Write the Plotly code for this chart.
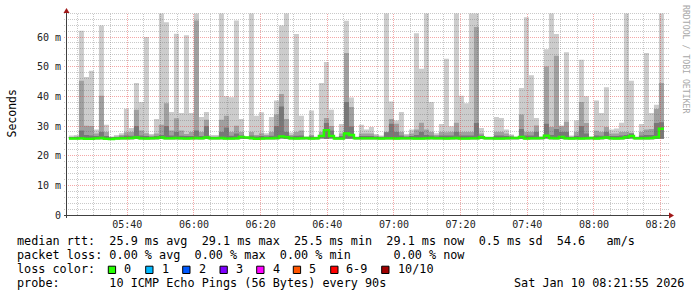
import pandas as pd
import plotly.graph_objects as go

# ---------------- data ----------------
t_first = "2026-01-10 05:22:30"          # start of first 90 s step
t_range = ["2026-01-10 05:21:55", "2026-01-10 08:21:55"]
step_s = 90

rtt_max = [26.8, 27.0, 62.1, 46.5, 48.6, 28.8, 63.9, 30.4, 26.5, 27.0,
           27.6, 35.8, 29.3, 44.5, 38.1, 60.0, 27.3, 32.4, 67.9, 65.0,
           34.7, 61.1, 34.4, 60.6, 34.4, 67.9, 33.0, 34.7, 27.0, 27.0,
           67.9, 40.0, 39.7, 65.6, 32.4, 26.5, 67.9, 33.5, 34.6, 27.6,
           33.0, 38.6, 63.9, 67.9, 27.8, 61.0, 33.5, 26.5, 35.2, 26.5,
           44.5, 51.6, 35.5, 26.5, 30.7, 65.5, 39.6, 26.5, 30.4, 28.8,
           29.7, 27.3, 26.8, 67.9, 38.3, 31.9, 34.7, 27.3, 28.8, 61.3,
           49.3, 67.9, 38.1, 27.6, 30.7, 52.7, 29.9, 67.9, 40.2, 37.7,
           67.9, 67.9, 29.3, 26.5, 26.5, 33.0, 32.7, 28.8, 27.1, 26.5,
           42.8, 66.7, 47.1, 32.7, 26.5, 55.9, 67.9, 61.0, 30.2, 54.9,
           26.8, 31.9, 52.3, 40.0, 26.5, 38.6, 34.4, 43.1, 28.8, 29.2,
           31.1, 67.9, 45.3, 26.5, 30.7, 54.6, 34.4, 37.2, 67.9]

rtt_upper = [26.3, 26.5, 45.3, 30.1, 30.0, 27.5, 40.2, 28.0, 26.3, 26.5,
             27.0, 27.9, 28.0, 35.5, 28.5, 27.6, 26.8, 27.5, 30.4, 37.7,
             28.5, 32.6, 28.5, 27.3, 28.0, 65.6, 28.0, 32.1, 26.5, 26.5,
             32.1, 33.5, 28.0, 30.1, 28.0, 26.3, 28.0, 27.0, 27.6, 27.0,
             28.0, 33.9, 40.8, 32.4, 27.0, 28.0, 28.5, 26.3, 27.0, 26.3,
             28.0, 32.7, 30.0, 26.3, 27.5, 54.6, 36.4, 26.3, 27.5, 27.5,
             27.5, 26.8, 26.5, 28.0, 32.4, 30.8, 28.0, 26.8, 27.5, 28.8,
             31.1, 28.8, 28.0, 27.0, 28.0, 27.9, 28.0, 31.1, 28.0, 28.0,
             28.0, 63.4, 27.5, 26.3, 26.3, 28.0, 28.0, 27.5, 26.8, 26.3,
             33.9, 28.0, 28.0, 30.2, 26.3, 50.1, 29.7, 53.7, 29.9, 31.4,
             26.5, 28.0, 38.1, 31.0, 26.3, 28.4, 28.0, 29.7, 27.5, 27.5,
             28.0, 28.0, 27.7, 26.3, 28.0, 28.8, 29.0, 35.7, 44.5]

rtt_low = [26.2, 26.3, 28.5, 27.0, 26.8, 26.6, 28.0, 26.6, 26.2, 26.3,
           26.5, 26.8, 26.7, 30.0, 26.8, 26.6, 26.4, 26.6, 27.0, 30.0,
           26.8, 28.0, 26.7, 26.6, 26.6, 28.5, 26.6, 30.0, 26.3, 26.3,
           28.0, 29.5, 26.7, 27.5, 26.8, 26.2, 26.8, 26.5, 26.6, 26.5,
           26.7, 30.0, 36.6, 28.0, 26.5, 26.7, 26.8, 26.2, 26.5, 26.2,
           27.0, 31.0, 28.5, 26.2, 26.6, 38.1, 29.8, 26.2, 26.6, 26.6,
           26.6, 26.4, 26.3, 27.9, 30.8, 28.0, 26.8, 26.4, 26.6, 27.0,
           28.0, 27.0, 26.8, 26.5, 26.8, 26.8, 26.8, 28.0, 26.8, 26.8,
           26.8, 31.0, 26.8, 26.2, 26.2, 26.8, 26.8, 26.6, 26.4, 26.2,
           29.0, 26.8, 26.8, 28.0, 26.2, 30.8, 27.0, 29.0, 28.0, 28.0,
           26.3, 26.7, 30.0, 27.5, 26.2, 26.8, 26.7, 28.0, 26.6, 26.6,
           26.8, 27.0, 27.5, 26.2, 26.8, 27.0, 27.0, 31.0, 31.3]

rtt_median = [25.8, 25.8, 25.9, 25.7, 25.7, 25.9, 26.0, 25.7, 25.6, 25.8,
              25.9, 25.9, 26.0, 26.1, 25.9, 25.8, 25.9, 26.0, 26.1, 25.9,
              25.9, 26.0, 25.9, 25.8, 25.9, 26.0, 25.9, 26.1, 25.9, 25.9,
              26.0, 25.8, 25.8, 25.9, 26.3, 26.1, 26.0, 25.7, 25.8, 25.9,
              25.9, 26.0, 26.5, 26.2, 25.9, 25.8, 25.9, 26.0, 25.8, 25.9,
              26.6, 28.6, 26.6, 25.8, 25.8, 27.5, 27.0, 25.9, 25.9, 25.9,
              25.9, 25.9, 25.8, 25.9, 25.9, 25.8, 25.9, 25.9, 25.9, 25.8,
              25.8, 25.9, 26.0, 25.9, 25.9, 25.8, 25.9, 26.0, 25.8, 25.8,
              25.9, 25.9, 26.2, 25.9, 25.9, 25.8, 25.8, 25.9, 26.0, 26.0,
              26.3, 25.8, 25.9, 25.9, 26.0, 26.7, 26.0, 25.9, 26.3, 25.9,
              25.8, 25.9, 25.8, 25.9, 26.0, 25.8, 26.0, 26.1, 25.9, 25.8,
              25.9, 26.2, 26.6, 25.9, 25.9, 25.9, 26.0, 26.2, 29.1]

rtt_min = [25.5, 25.5, 25.5, 25.4, 25.4, 25.5, 25.5, 25.4, 25.4, 25.5,
           25.5, 25.5, 25.5, 25.6, 25.5, 25.5, 25.5, 25.5, 25.6, 25.5,
           25.5, 25.5, 25.5, 25.5, 25.5, 25.5, 25.5, 25.6, 25.5, 25.5,
           25.5, 25.5, 25.5, 25.5, 25.7, 25.6, 25.5, 25.4, 25.5, 25.5,
           25.5, 25.5, 25.8, 25.6, 25.5, 25.5, 25.5, 25.5, 25.5, 25.5,
           25.8, 25.6, 25.8, 25.5, 25.5, 25.7, 25.7, 25.5, 25.5, 25.5,
           25.5, 25.5, 25.5, 25.5, 25.5, 25.5, 25.5, 25.5, 25.5, 25.5,
           25.5, 25.5, 25.5, 25.5, 25.5, 25.5, 25.5, 25.5, 25.5, 25.5,
           25.5, 25.5, 25.6, 25.5, 25.5, 25.5, 25.5, 25.5, 25.5, 25.5,
           25.6, 25.5, 25.5, 25.5, 25.5, 25.8, 25.5, 25.5, 25.6, 25.5,
           25.5, 25.5, 25.5, 25.5, 25.5, 25.5, 25.5, 25.6, 25.5, 25.5,
           25.5, 25.6, 25.8, 25.5, 25.5, 25.5, 25.5, 25.6, 25.7]

y_tick_vals = [0, 10, 20, 30, 40, 50, 60]
y_tick_text = ["0", "10 m", "20 m", "30 m", "40 m", "50 m", "60 m"]
x_tick_text = ["05:40", "06:00", "06:20", "06:40", "07:00", "07:20", "07:40", "08:00", "08:20"]

legend_rtt = "median rtt:  25.9 ms avg  29.1 ms max  25.5 ms min  29.1 ms now  0.5 ms sd  54.6   am/s"
legend_loss = "packet loss: 0.00 % avg  0.00 % max  0.00 % min      0.00 % now"
loss_labels = ["0", "1", "2", "3", "4", "5", "6-9", "10/10"]
loss_colors = ["#26ff00", "#00b8ff", "#0059ff", "#7e00ff", "#ff00ff", "#ff5500", "#ff0000", "#a10000"]
legend_probe = "probe:       10 ICMP Echo Pings (56 Bytes) every 90s"
stamp = "Sat Jan 10 08:21:55 2026"
watermark = "RRDTOOL / TOBI OETIKER"

# ---------------- geometry ----------------
W, H = 697, 297
L, R, T, B = 67, 667, 13, 215
Y_TOP = 68.1
MONO = "DejaVu Sans Mono"
SEC_PER_PX = 18.0


def px(x):
    return (x - L) / (R - L)


def py(y):
    return (B - y) / (B - T)


n = len(rtt_max)
times = pd.date_range(t_first, periods=n + 1, freq=f"{step_s}s")


def ext(a):
    return list(a) + [a[-1]]


fig = go.Figure()
for top, color in [(rtt_max, "#cccccc"), (rtt_upper, "#a0a0a0"), (rtt_low, "#787878")]:
    fig.add_trace(go.Scatter(x=times, y=ext(rtt_min), mode="lines",
                             line=dict(width=0, shape="hv"), hoverinfo="skip"))
    fig.add_trace(go.Scatter(x=times, y=ext(top), mode="lines",
                             line=dict(width=0, shape="hv"), fill="tonexty",
                             fillcolor=color, hoverinfo="skip"))
fig.add_trace(go.Scatter(x=times, y=ext(rtt_median), mode="lines",
                         line=dict(width=2.5, shape="hv", color="#26ff00"),
                         hoverinfo="skip"))

shapes = []
minor_col = "rgba(100,100,100,0.35)"
major_col = "rgba(230,60,60,0.45)"
dash = "1px,1px"
t_axis0 = pd.Timestamp(t_range[0])
# vertical grid every 5 min (snapped to pixel centres)
t_grid0 = pd.Timestamp("2026-01-10 05:25:00")
for i in range(36):
    t = t_grid0 + pd.Timedelta(minutes=5 * i)
    major = (t.minute % 20 == 0)
    xp = L + (t - t_axis0).total_seconds() / SEC_PER_PX
    xp = int(xp) + 0.5
    shapes.append(dict(type="line", xref="paper", yref="paper", x0=px(xp), x1=px(xp),
                       y0=py(B), y1=py(T),
                       line=dict(color=major_col if major else minor_col, width=1, dash=dash),
                       layer="above"))
# horizontal grid every 2 ms (snapped to pixel centres)
for v in range(2, 69, 2):
    major = (v % 10 == 0)
    yp = B - v * (B - T) / Y_TOP
    if yp < T - 0.5:
        continue
    yp = int(yp) + 0.5
    shapes.append(dict(type="line", xref="paper", yref="paper", x0=px(64), x1=px(669),
                       y0=py(yp), y1=py(yp),
                       line=dict(color=major_col if major else minor_col, width=1, dash=dash),
                       layer="above"))
# axes + arrows
axis_col = "#404040"
arrow_col = "#a01818"
shapes.append(dict(type="line", xref="paper", yref="paper", x0=px(64), x1=px(670),
                   y0=py(215.5), y1=py(215.5), line=dict(color=axis_col, width=1), layer="above"))
shapes.append(dict(type="line", xref="paper", yref="paper", x0=px(66.5), x1=px(66.5),
                   y0=py(218), y1=py(12), line=dict(color=axis_col, width=1), layer="above"))
shapes.append(dict(type="path", xref="paper", yref="paper",
                   path=f"M {px(66.5)},{py(8)} L {px(63.5)},{py(13)} L {px(69.5)},{py(13)} Z",
                   fillcolor=arrow_col, line=dict(width=0), layer="above"))
shapes.append(dict(type="path", xref="paper", yref="paper",
                   path=f"M {px(674)},{py(215.5)} L {px(669)},{py(212.5)} L {px(669)},{py(218.5)} Z",
                   fillcolor=arrow_col, line=dict(width=0), layer="above"))

# loss colour boxes
box_left = [108.3, 145.7, 182.7, 220.0, 256.7, 293.3, 330.7, 381.7]
for xb, c in zip(box_left, loss_colors):
    shapes.append(dict(type="rect", xref="paper", yref="paper",
                       x0=px(xb), x1=px(xb + 7.3), y0=py(273.5), y1=py(266.2),
                       fillcolor=c, line=dict(color="#000000", width=1), layer="above"))


def nb(s):
    return s.replace(" ", "\u00a0")


annotations = []
LEG = 11.8


def add_text(text, x, y, size=LEG, color="#000000", xanchor="left", angle=0, yanchor="middle"):
    annotations.append(dict(text=nb(text), x=px(x), y=py(y), xref="paper", yref="paper",
                            showarrow=False, xanchor=xanchor, yanchor=yanchor,
                            textangle=angle, borderpad=0,
                            font=dict(family=MONO, size=size, color=color)))


add_text(legend_rtt, 16, 241.0)
add_text(legend_loss, 16, 255.0)
add_text("loss color:", 16, 269.2)
label_x = [123.3, 160.7, 197.7, 234.7, 271.7, 308.3, 345.0, 396.7]
for lx, lab in zip(label_x, loss_labels):
    add_text(lab, lx, 269.2)
add_text(legend_probe, 16, 283.2)
add_text(stamp, 513.3, 283.2)
add_text("Seconds", 11, 113.5, size=11.5, angle=-90, xanchor="center")
add_text(watermark, 686, 59, size=8.2, color="#a8a8a8", angle=90, xanchor="center")

x_tick_vals = [f"2026-01-10 {t}:00" for t in x_tick_text]

fig.update_layout(
    width=W, height=H,
    margin=dict(l=L, r=W - R, t=T, b=H - B, pad=0),
    paper_bgcolor="white", plot_bgcolor="white",
    showlegend=False,
    shapes=shapes, annotations=annotations,
    xaxis=dict(type="date", range=t_range, showgrid=False, zeroline=False, showline=False,
               tickmode="array", tickvals=x_tick_vals, ticktext=x_tick_text, ticks="",
               tickfont=dict(family=MONO, size=10, color="#222222"), ticklabelstandoff=2),
    yaxis=dict(range=[0, Y_TOP], showgrid=False, zeroline=False, showline=False,
               tickmode="array", tickvals=y_tick_vals, ticktext=y_tick_text, ticks="",
               tickfont=dict(family=MONO, size=10, color="#222222"), ticklabelstandoff=5),
)

fig.write_html("out.html", config={"displayModeBar": False})
